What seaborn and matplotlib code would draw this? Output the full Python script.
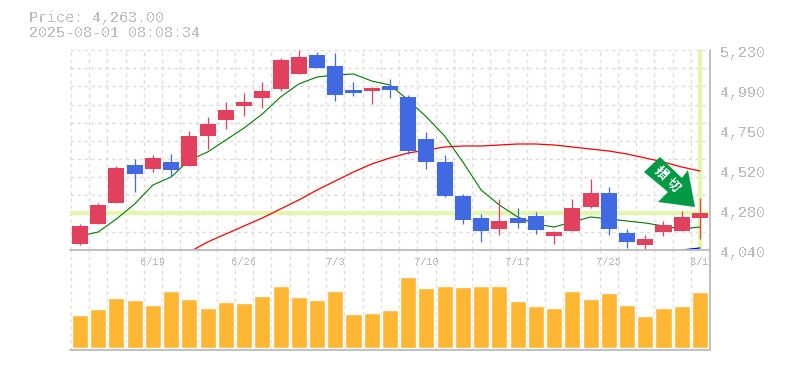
import matplotlib
matplotlib.use("Agg")
import matplotlib.pyplot as plt
import numpy as np
import pandas as pd
import seaborn as sns
from matplotlib.patches import Polygon

price_text = "Price: 4,263.00"
time_text = "2025-08-01 08:08:34"
last_price = 4263

opens = [4076, 4196, 4322, 4550, 4526, 4568, 4544, 4724, 4820, 4904, 4952, 5006,
         5096, 5210, 5144, 5000, 4994, 5024, 4958, 4706, 4568, 4364, 4232, 4166,
         4232, 4244, 4124, 4154, 4298, 4382, 4142, 4070, 4148, 4154, 4232]
highs = [4196, 4322, 4544, 4586, 4610, 4616, 4754, 4838, 4928, 4982, 5048, 5192,
         5240, 5228, 5222, 5048, 5018, 5066, 4970, 4748, 4610, 4376, 4256, 4346,
         4292, 4268, 4154, 4346, 4466, 4418, 4166, 4130, 4214, 4274, 4352]
lows = [4070, 4196, 4322, 4388, 4508, 4484, 4544, 4646, 4766, 4844, 4892, 4994,
        5096, 5132, 4934, 4964, 4916, 4952, 4616, 4526, 4358, 4196, 4088, 4130,
        4172, 4136, 4076, 4154, 4292, 4130, 4052, 4034, 4124, 4154, 4106]
closes = [4184, 4310, 4532, 4496, 4592, 4520, 4724, 4796, 4880, 4928, 4994, 5180,
          5198, 5132, 4970, 4982, 5012, 5000, 4634, 4568, 4364, 4220, 4154, 4214,
          4202, 4160, 4148, 4292, 4382, 4166, 4088, 4106, 4190, 4238, 4263]
volumes = [99, 117, 150, 144, 129, 171, 147, 120, 138, 135, 156, 186, 153, 144, 171, 102, 105, 114,
           213, 180, 186, 183, 186, 186, 141, 126, 120, 171, 147, 165, 129, 96, 120, 126, 168]
ma_short = [4124, 4148, 4226, 4316, 4430, 4478, 4580, 4628, 4700, 4772, 4856, 4958,
            5036, 5078, 5090, 5096, 5054, 5030, 4940, 4838, 4724, 4568, 4400, 4310,
            4238, 4196, 4178, 4208, 4238, 4226, 4214, 4202, 4184, 4166, 4178]
ma_mid = [None] * 6 + [4028, 4088, 4136, 4184, 4232, 4286, 4340, 4400, 4454, 4508, 4556,
                       4592, 4622, 4640, 4658, 4664, 4664, 4670, 4676, 4676, 4670, 4658,
                       4646, 4634, 4616, 4592, 4568, 4538, 4514]
ma_long = [None] * 33 + [4040, 4052]
date_idx = [4, 9, 14, 19, 24, 29, 34]
date_labels = ["6/19", "6/26", "7/3", "7/10", "7/17", "7/25", "8/1"]
price_ticks = [4040, 4280, 4520, 4760, 5000, 5240]
price_labels = ["4,040", "4,280", "4,520", "4,750", "4,990", "5,230"]

UP = "#e2405f"
DOWN = "#4169e1"
TEXT = "#bdbdbd"
FRAME = "#bcbcbc"
GRID = "#dcdcdc"
MARK = "#e4f5ac"

sns.set_theme(style="white")
plt.rcParams["font.family"] = ["Liberation Mono", "Noto Sans CJK JP", "DejaVu Sans"]
plt.rcParams["text.antialiased"] = False

df = pd.DataFrame({"i": np.arange(len(opens)), "open": opens, "high": highs, "low": lows,
                   "close": closes, "volume": volumes, "ma_short": ma_short,
                   "ma_mid": ma_mid, "ma_long": ma_long}, dtype=float)
df["color"] = np.where(df["close"] >= df["open"], UP, DOWN)

W, H = 785, 370
fig = plt.figure(figsize=(W / 100, H / 100), dpi=100)
ax = fig.add_axes([70 / W, 1 - 250 / H, 640 / W, 200 / H])
ax_vol = fig.add_axes([70 / W, 1 - 350 / H, 640 / W, 100 / H], sharex=ax)

xlim = (-0.545, 34.55)
for a in (ax, ax_vol):
    a.set_xticks(df["i"].values[:-1] + 0.5, minor=False)
    a.set_xticks([-0.5, 34.5], minor=True)
    a.grid(True, axis="x", which="both", color=GRID, linestyle=(0, (2.5, 2.5)), linewidth=1)
    a.tick_params(which="both", length=0, labelbottom=False, labelleft=False)
    a.set_axisbelow(True)
    for s in a.spines.values():
        s.set_visible(False)

# price panel
ax.set_ylim(4040, 5240)
ax.set_yticks(np.linspace(4040, 5240, 12))
ax.grid(True, axis="y", color=GRID, linestyle=(0, (2.5, 2.5)), linewidth=1)
ax.axhline(last_price, color=MARK, linewidth=3, zorder=1.5)
ax.plot([34, 34], [4052, 5240], color=MARK, linewidth=3, zorder=1.5)

sns.lineplot(data=df, x="i", y="ma_mid", color="#ff0000", linewidth=0.9, ax=ax, zorder=2, clip_on=False)
sns.lineplot(data=df, x="i", y="ma_short", color="#007a00", linewidth=0.8, ax=ax, zorder=2)
sns.lineplot(data=df, x="i", y="ma_long", color="#0000ff", linewidth=0.9, ax=ax, zorder=2)

ax.vlines(df["i"], df["low"], df["high"], colors=df["color"], linewidth=0.9, zorder=3, clip_on=False)
ax.bar(df["i"], (df["close"] - df["open"]).abs(), bottom=df[["open", "close"]].min(axis=1),
       width=0.88, color=df["color"], linewidth=0, zorder=3)

# signal arrow, in pixels from the top left corner
arrow_px = [(660, 157), (644, 172), (668, 192), (658, 202), (695, 207), (688, 170), (682, 178)]
fig.add_artist(Polygon([(x / W, 1 - y / H) for x, y in arrow_px], closed=True,
                       transform=fig.transFigure, facecolor="#009a44", edgecolor="none", zorder=5))
fig.text(661 / W, 1 - 173 / H, "損", color="white", fontsize=9.5, rotation=-45, rotation_mode="anchor",
         ha="center", va="center", zorder=6, family=["Noto Sans CJK JP"], fontweight="bold")
fig.text(673 / W, 1 - 185 / H, "切", color="white", fontsize=9.5, rotation=-45, rotation_mode="anchor",
         ha="center", va="center", zorder=6, family=["Noto Sans CJK JP"], fontweight="bold")

ax.set_xlabel("")
ax.set_ylabel("")
for v, lab in zip(price_ticks, price_labels):
    ax.annotate(lab, xy=(1, v), xycoords=("axes fraction", "data"), xytext=(10, -3),
                textcoords="offset pixels", ha="left", va="center", fontsize=10.8,
                color=TEXT, annotation_clip=False)

# volume panel
sns.barplot(data=df, x="i", y="volume", native_scale=True, color="#ffb733", width=0.88,
            saturation=1, ax=ax_vol, zorder=3)
ax_vol.set_ylim(-6, 294)
ax_vol.set_xlabel("")
ax_vol.set_ylabel("")
ax_vol.set_xlim(*xlim)
ax_vol.grid(False, axis="y")
for i, lab in zip(date_idx, date_labels):
    ax_vol.annotate(lab, xy=(i, 1), xycoords=("data", "axes fraction"), xytext=(0, -12),
                    textcoords="offset pixels", ha="center", va="center", fontsize=7.6, color=TEXT)

# frame lines
for y in (250, 350):
    fig.add_artist(plt.Line2D([70 / W, 710 / W], [1 - y / H, 1 - y / H], color=FRAME, linewidth=1.3))
fig.add_artist(plt.Line2D([710 / W, 710 / W], [1 - 50 / H, 1 - 350 / H], color=FRAME, linewidth=1.3))

fig.text(29 / W, 1 - 18 / H, price_text, fontsize=10.8, color=TEXT, va="center", ha="left")
fig.text(29 / W, 1 - 33 / H, time_text, fontsize=10.8, color=TEXT, va="center", ha="left")

fig.savefig("out.png", dpi=100, facecolor="white")
